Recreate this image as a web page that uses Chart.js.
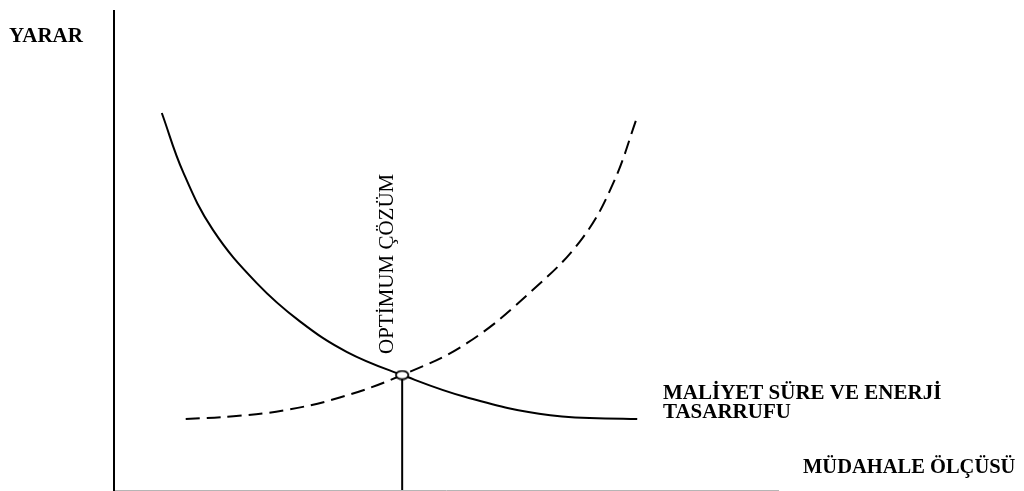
<!DOCTYPE html>
<html>
<head>
<meta charset="utf-8">
<script src="https://cdn.jsdelivr.net/npm/chart.js@4.4.0/dist/chart.umd.min.js"></script>
<style>
  html, body { margin: 0; padding: 0; background: #fff; }
  #wrap { width: 1024px; height: 491px; }
</style>
</head>
<body>
<div id="wrap"><canvas id="chart" width="1024" height="491"></canvas></div>
<script>
// müdahale ölçüsü (x) / yarar (y), in 0..100 units
const costX = [7.2, 10.4, 14.9, 21.5, 28.0, 35.1, 43.4, 53.2, 65.7, 78.8];
const costY = [78.7, 66.4, 54.3, 43.2, 35.2, 28.8, 24.0, 19.3, 15.6, 14.8];

const effortX = [10.8, 18.0, 25.5, 34.0, 43.4, 53.2, 63.1, 70.5, 75.2, 78.9];
const effortY = [14.8, 15.4, 16.6, 19.3, 24.0, 30.7, 41.8, 52.5, 64.1, 78.3];

const optimum = { x: 43.4, y: 24.0 };

const yLabel = 'YARAR';
const xLabel = 'MÜDAHALE ÖLÇÜSÜ';
const curveLabel = ['MALİYET SÜRE VE ENERJİ', 'TASARRUFU'];
const optimumLabel = 'OPTİMUM ÇÖZÜM';

const toPoints = (xs, ys) => xs.map((x, i) => ({ x: x, y: ys[i] }));

// small ellipse marker for the optimum
const marker = document.createElement('canvas');
marker.width = 16;
marker.height = 11;
(function () {
  const m = marker.getContext('2d');
  m.fillStyle = '#fff';
  m.strokeStyle = '#000';
  m.lineWidth = 1.8;
  m.beginPath();
  m.ellipse(8, 5.5, 6.2, 4.2, 0, 0, Math.PI * 2);
  m.fill();
  m.stroke();
})();

const serif = '"Liberation Serif", "Times New Roman", serif';

const labelsPlugin = {
  id: 'labels',
  afterDraw(chart) {
    const ctx = chart.ctx;
    const xs = chart.scales.x;
    const ys = chart.scales.y;
    ctx.save();
    ctx.fillStyle = '#000';
    ctx.textBaseline = 'alphabetic';
    ctx.textAlign = 'left';
    ctx.font = 'bold 21px ' + serif;
    ctx.fillText(yLabel, 9, 42);
    ctx.fillText(curveLabel[0], 663, 399);
    ctx.fillText(curveLabel[1], 663, 418);
    ctx.font = 'bold 20.5px ' + serif;
    ctx.fillText(xLabel, 803, 473);

    const px = xs.getPixelForValue(optimum.x);
    const py = ys.getPixelForValue(optimum.y);
    ctx.translate(px - 9, py - 21);
    ctx.rotate(-Math.PI / 2);
    ctx.font = '21px ' + serif;
    ctx.fillText(optimumLabel, 0, 0);
    ctx.restore();
  }
};

new Chart(document.getElementById('chart'), {
  type: 'scatter',
  data: {
    datasets: [
      {
        data: [optimum],
        pointStyle: marker,
        pointRadius: 6,
        showLine: false
      },
      {
        data: toPoints(costX, costY),
        showLine: true,
        borderColor: '#000',
        borderWidth: 2,
        pointRadius: 0,
        tension: 0.4
      },
      {
        data: toPoints(effortX, effortY),
        showLine: true,
        borderColor: '#000',
        borderWidth: 2,
        borderDash: [14, 7],
        pointRadius: 0,
        tension: 0.4
      },
      {
        data: [{ x: optimum.x, y: 0 }, { x: optimum.x, y: optimum.y }],
        showLine: true,
        borderColor: '#000',
        borderWidth: 2,
        pointRadius: 0
      }
    ]
  },
  options: {
    responsive: false,
    animation: false,
    events: [],
    layout: { autoPadding: false, padding: { left: 114, right: 246, top: 11, bottom: 1 } },
    plugins: {
      legend: { display: false },
      tooltip: { enabled: false }
    },
    scales: {
      x: {
        type: 'linear',
        min: 0,
        max: 100,
        ticks: { display: false },
        grid: { display: false, drawTicks: false },
        border: { display: true, color: '#b5b5b5', width: 1 },
        afterFit: s => { s.height = 0; }
      },
      y: {
        type: 'linear',
        min: 0,
        max: 100,
        ticks: { display: false },
        grid: { display: false, drawTicks: false },
        border: { display: true, color: '#000', width: 2 },
        afterFit: s => { s.width = 0; }
      }
    }
  },
  plugins: [labelsPlugin]
});
</script>
</body>
</html>
